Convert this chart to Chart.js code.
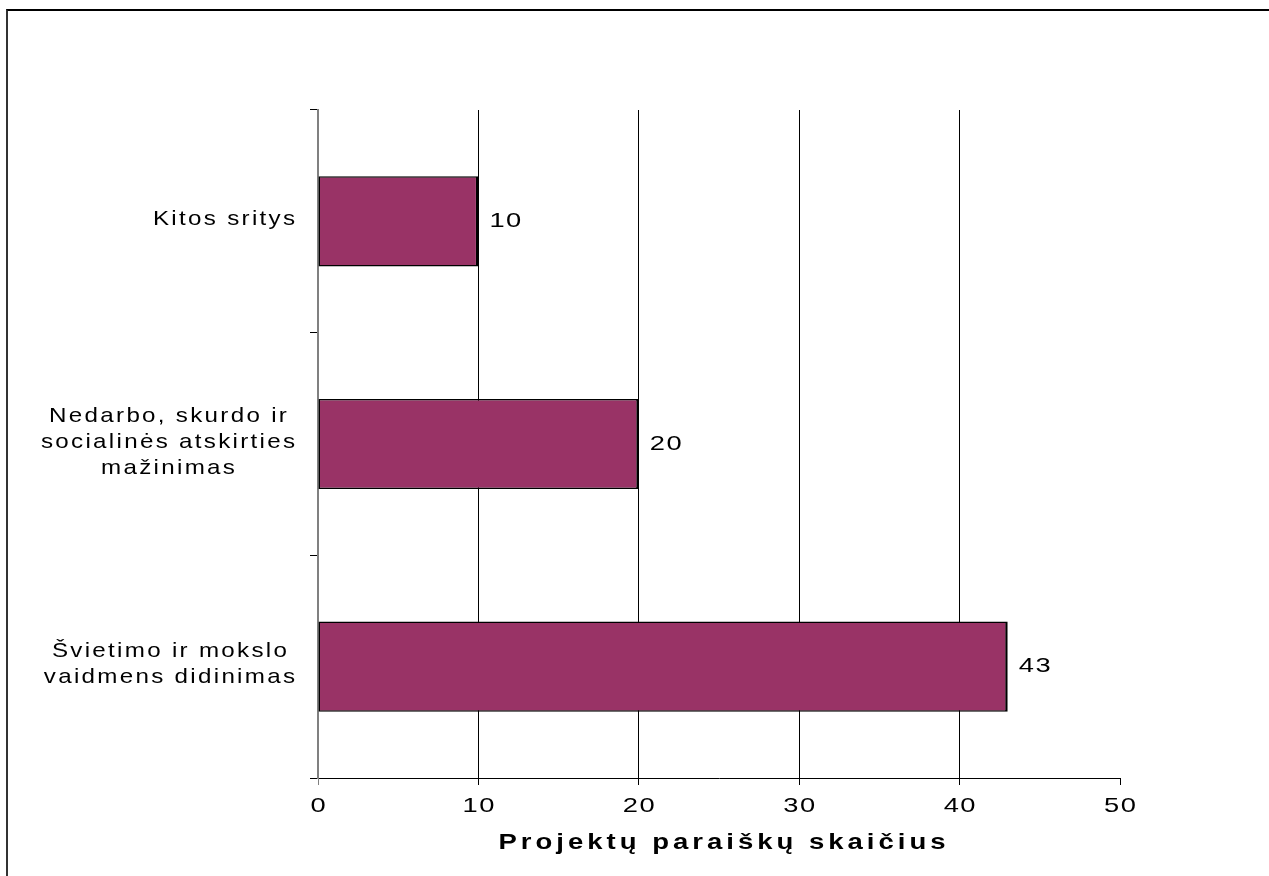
<!DOCTYPE html>
<html>
<head>
<meta charset="utf-8">
<title>Projektų paraiškų skaičius</title>
<script src="https://cdn.jsdelivr.net/npm/chart.js@4.4.0/dist/chart.umd.min.js"></script>
<style>
    html, body { margin: 0; padding: 0; background: #fff; overflow: hidden; }
    #frame {
        position: absolute; left: 6px; top: 9px; width: 1400px; height: 1000px;
        border-top: 2px solid #000; border-left: 2px solid #333;
    }
    #bar-chart { position: absolute; left: 0; top: 0; }
</style>
</head>
<body>
<div id="frame"></div>
<canvas id="bar-chart" width="1269" height="876"></canvas>
<script>
// data
var categories = [
    ["Kitos sritys"],
    ["Nedarbo, skurdo ir", "socialinės atskirties", "mažinimas"],
    ["Švietimo ir mokslo", "vaidmens didinimas"]
];
var values = [10, 20, 43];
var xMin = 0, xMax = 50, xStep = 10;
var axisTitle = "Projektų paraiškų skaičius";

var FONT = '"Liberation Sans", Arial, sans-serif';

// Excel draws its text wide: stretch glyphs sideways (sx) and add a bit of spacing (ls)
function wideText(ctx, text, x, y, align, font, sx, ls) {
    ctx.save();
    ctx.font = font;
    ctx.letterSpacing = (ls / sx) + 'px';
    ctx.textAlign = 'left';
    ctx.textBaseline = 'middle';
    var w = (ctx.measureText(text).width - ls / sx) * sx;
    var left = x;
    if (align === 'center') left = x - w / 2;
    if (align === 'right') left = x - w;
    ctx.translate(left, y);
    ctx.scale(sx, 1);
    ctx.fillText(text, 0, 0);
    ctx.restore();
    return w;
}

function textWidth(ctx, text, font, sx, ls) {
    ctx.save();
    ctx.font = font;
    ctx.letterSpacing = (ls / sx) + 'px';
    var w = (ctx.measureText(text).width - ls / sx) * sx;
    ctx.restore();
    return w;
}

var labelsPlugin = {
    id: 'labels',
    afterDraw: function (chart) {
        var ctx = chart.ctx;
        var xs = chart.scales.x;
        var ys = chart.scales.y;
        var area = chart.chartArea;
        ctx.save();
        ctx.fillStyle = '#000';

        // category labels: block right aligned, lines centered in it
        var catFont = '21px ' + FONT;
        var lineH = 26;
        categories.forEach(function (lines, i) {
            var cy = ys.getPixelForValue(i) - 2;
            var w = 0;
            lines.forEach(function (t) { w = Math.max(w, textWidth(ctx, t, catFont, 1.15, 2.3)); });
            var cx = 295 - w / 2;
            lines.forEach(function (t, k) {
                wideText(ctx, t, cx, cy + (k - (lines.length - 1) / 2) * lineH, 'center', catFont, 1.15, 2.3);
            });
        });

        // x tick labels from the axis ticks
        var numFont = '21px ' + FONT;
        xs.ticks.forEach(function (t) {
            wideText(ctx, String(t.value), xs.getPixelForValue(t.value), area.bottom + 28, 'center', numFont, 1.3, 1.5);
        });

        // axis title
        wideText(ctx, axisTitle, (area.left + area.right) / 2 + 3, area.bottom + 65, 'center',
            'bold 22px ' + FONT, 1.25, 4);

        // value labels
        var meta = chart.getDatasetMeta(0);
        meta.data.forEach(function (bar, i) {
            wideText(ctx, String(values[i]), bar.x + 11, bar.y, 'left', numFont, 1.3, 1.5);
        });
        ctx.restore();
    }
};

new Chart(document.getElementById("bar-chart"), {
    type: 'bar',
    data: {
        labels: categories,
        datasets: [
            {
                data: values,
                backgroundColor: '#993366',
                borderColor: '#000',
                borderWidth: { top: 1.5, bottom: 1.5, left: 1.5, right: 2.5 },
                borderSkipped: false,
                barPercentage: 0.405,
                categoryPercentage: 1
            }
        ]
    },
    options: {
        indexAxis: 'y',
        responsive: false,
        animation: false,
        layout: {
            padding: { left: 310, right: 149, top: 110, bottom: 91 }
        },
        plugins: {
            legend: { display: false },
            tooltip: { enabled: false }
        },
        scales: {
            x: {
                min: xMin,
                max: xMax,
                ticks: { stepSize: xStep, display: false },
                grid: {
                    color: function (c) {
                        if (c.tick && c.tick.value === xMin) return '#808080';
                        if (c.tick && c.tick.value === xMax) return 'rgba(0,0,0,0)';
                        return '#000';
                    },
                    tickColor: function (c) {
                        return (c.tick && c.tick.value === xMin) ? '#808080' : '#000';
                    },
                    lineWidth: 1,
                    tickLength: 7
                },
                border: { color: '#000', width: 1 }
            },
            y: {
                ticks: { display: false },
                grid: {
                    drawOnChartArea: false,
                    color: '#000',
                    tickLength: 8,
                    offset: true
                },
                border: { color: '#808080', width: 2 }
            }
        }
    },
    plugins: [labelsPlugin]
});
</script>
</body>
</html>
